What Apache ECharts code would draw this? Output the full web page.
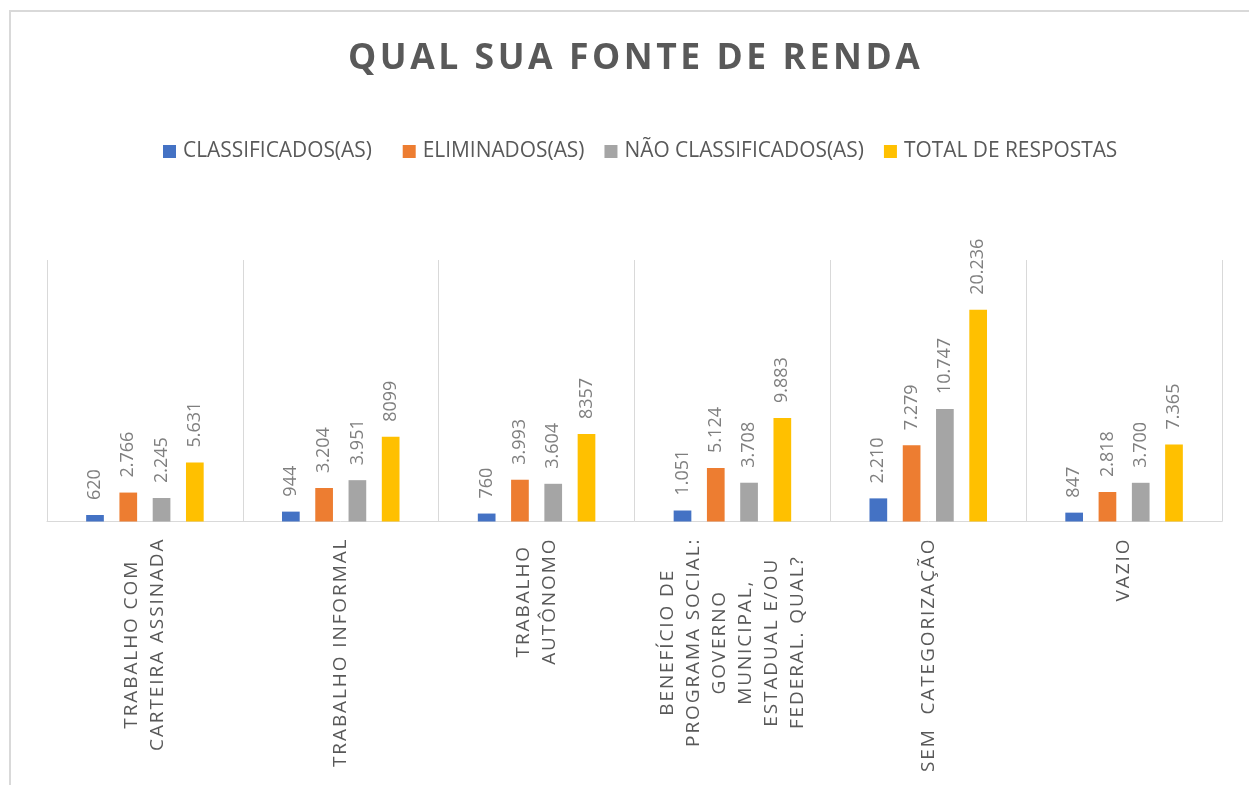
<!DOCTYPE html>
<html>
<head>
<meta charset="UTF-8">
<title>Qual sua fonte de renda</title>
<script src="https://cdn.jsdelivr.net/npm/echarts@6/dist/echarts.min.js"></script>
<style>
    html, body { margin: 0; padding: 0; background: #fff; }
    #main { width: 1249px; height: 785px; }
</style>
</head>
<body>
<div id="main"></div>
<script type="text/javascript">
    // dados
    var categorias = [
        'TRABALHO COM\nCARTEIRA ASSINADA',
        'TRABALHO INFORMAL',
        'TRABALHO\nAUTÔNOMO',
        'BENEFÍCIO DE\nPROGRAMA SOCIAL:\nGOVERNO\nMUNICIPAL,\nESTADUAL E/OU\nFEDERAL. QUAL?',
        'SEM  CATEGORIZAÇÃO',
        'VAZIO'
    ];
    var classificados = [620, 944, 760, 1051, 2210, 847];
    var eliminados = [2766, 3204, 3993, 5124, 7279, 2818];
    var naoClassificados = [2245, 3951, 3604, 3708, 10747, 3700];
    var totalRespostas = [5631, 8099, 8357, 9883, 20236, 7365];
    // no original esses totais aparecem sem o ponto de milhar
    var totalSemPonto = [1, 2];

    var cores = ['#4472C4', '#ED7D31', '#A5A5A5', '#FFC000'];
    var cinzaTexto = '#595959';

    function espacar(s, sep) {
        return s.split('').join(sep);
    }

    function milhar(v) {
        return String(v).replace(/\B(?=(\d{3})+(?!\d))/g, '.');
    }

    function rotulo(semPonto) {
        return {
            show: true,
            position: 'top',
            rotate: 90,
            align: 'left',
            verticalAlign: 'middle',
            distance: 15,
            color: '#7f7f7f',
            fontFamily: 'Open Sans',
            fontSize: 18,
            formatter: function (p) {
                if (semPonto && semPonto.indexOf(p.dataIndex) > -1) return String(p.value);
                return milhar(p.value);
            }
        };
    }

    function serie(nome, dados, cor, semPonto) {
        return {
            name: nome,
            type: 'bar',
            data: dados,
            barWidth: 17.7,
            barGap: '88%',
            itemStyle: { color: cor },
            label: rotulo(semPonto)
        };
    }

    var myChart = echarts.init(document.getElementById('main'));

    var option = {
        animation: false,
        backgroundColor: '#fff',
        title: {
            text: espacar('QUAL SUA FONTE DE RENDA', '\u200A'),
            left: 348,
            top: 41,
            padding: 0,
            textStyle: {
                fontFamily: 'Open Sans',
                fontWeight: 'bold',
                fontSize: 35.5,
                color: cinzaTexto
            }
        },
        legend: {
            left: 163,
            top: 141,
            padding: 0,
            itemWidth: 13,
            itemHeight: 13,
            itemGap: 20,
            icon: 'rect',
            formatter: function (nome) {
                // o primeiro item tem um espaço maior depois dele
                return nome === 'CLASSIFICADOS(AS)' ? nome + '  ' : nome;
            },
            textStyle: {
                fontFamily: 'Open Sans',
                fontSize: 20.9,
                color: cinzaTexto,
                padding: [0, 0, 0, 2]
            },
            data: ['CLASSIFICADOS(AS)', 'ELIMINADOS(AS)', 'NÃO CLASSIFICADOS(AS)', 'TOTAL DE RESPOSTAS']
        },
        grid: {
            left: 47,
            right: 27,
            top: 260,
            bottom: 263.5,
            containLabel: false
        },
        xAxis: {
            type: 'category',
            data: categorias,
            axisLine: { lineStyle: { color: '#d9d9d9', width: 1 } },
            axisTick: { show: false },
            splitLine: { show: true, lineStyle: { color: '#d9d9d9', width: 1 } },
            axisLabel: {
                interval: 0,
                rotate: 90,
                margin: 18,
                color: cinzaTexto,
                fontFamily: 'Open Sans',
                fontSize: 19,
                lineHeight: 26,
                formatter: function (v) {
                    return v.split('\n').map(function (l) {
                        return '{c|' + espacar(l, '\u200A') + '}';
                    }).join('\n');
                },
                rich: {
                    c: {
                        align: 'center',
                        color: cinzaTexto,
                        fontFamily: 'Open Sans',
                        fontSize: 19,
                        lineHeight: 26
                    }
                }
            }
        },
        yAxis: {
            type: 'value',
            min: 0,
            max: 25000,
            show: false,
            splitLine: { show: false }
        },
        graphic: [{
            type: 'rect',
            silent: true,
            shape: { x: 10, y: 11, width: 1400, height: 1000 },
            style: { fill: 'none', stroke: '#d9d9d9', lineWidth: 2 }
        }],
        series: [
            serie('CLASSIFICADOS(AS)', classificados, cores[0]),
            serie('ELIMINADOS(AS)', eliminados, cores[1]),
            serie('NÃO CLASSIFICADOS(AS)', naoClassificados, cores[2]),
            serie('TOTAL DE RESPOSTAS', totalRespostas, cores[3], totalSemPonto)
        ]
    };

    myChart.setOption(option);
</script>
</body>
</html>
